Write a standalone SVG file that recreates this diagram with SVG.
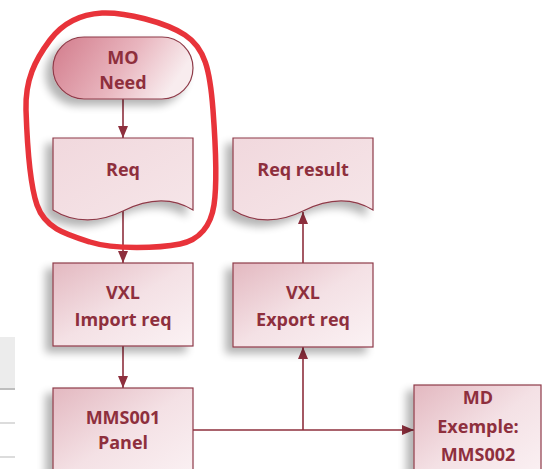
<svg xmlns="http://www.w3.org/2000/svg" width="542" height="469" viewBox="0 0 542 469">
  <defs>
    <linearGradient id="gTerm" x1="0" y1="0" x2="1" y2="0.3">
      <stop offset="0" stop-color="#d27b8b"/>
      <stop offset="0.6" stop-color="#e9b6bf"/>
      <stop offset="1" stop-color="#f8ecee"/>
    </linearGradient>
    <linearGradient id="gBox" x1="0" y1="0" x2="1" y2="1">
      <stop offset="0" stop-color="#e3b8c0"/>
      <stop offset="0.5" stop-color="#f4e1e5"/>
      <stop offset="1" stop-color="#fbf2f4"/>
    </linearGradient>
    <linearGradient id="gDoc" x1="0" y1="0" x2="1" y2="1">
      <stop offset="0" stop-color="#f1d8dd"/>
      <stop offset="1" stop-color="#f6e6e9"/>
    </linearGradient>
    <filter id="sh" x="-20%" y="-20%" width="140%" height="150%">
      <feGaussianBlur in="SourceAlpha" stdDeviation="4"/>
      <feOffset dx="-7" dy="6" result="b"/>
      <feComponentTransfer><feFuncA type="linear" slope="0.3"/></feComponentTransfer>
      <feMerge><feMergeNode/><feMergeNode in="SourceGraphic"/></feMerge>
    </filter>
    <marker id="arr" viewBox="0 0 12 10" refX="12" refY="5" markerWidth="12" markerHeight="10" markerUnits="userSpaceOnUse" orient="auto">
      <path d="M0,0 L12,5 L0,10 Z" fill="#8e2f3d"/>
    </marker>
  </defs>
  <style>
    .node { stroke: #8e3a48; stroke-width: 1.2; }
    .term { fill: url(#gTerm); }
    .box { fill: url(#gBox); }
    .doc { fill: url(#gDoc); }
    .lbl { font-family: "Open Sans", "Liberation Sans", sans-serif; font-weight: bold; font-size: 18px; fill: #8e2f3d; text-anchor: middle; }
    .conn { stroke: #8e2f3d; stroke-width: 1.6; fill: none; }
  </style>

  <g id="table-fragment">
    <rect x="0" y="337" width="15" height="51" fill="#ececec"/>
    <line x1="0" y1="389" x2="15" y2="389" stroke="#a8a8a8" stroke-width="1.5"/>
    <line x1="0" y1="423" x2="15" y2="423" stroke="#dcdcdc" stroke-width="2"/>
    <line x1="0" y1="457" x2="15" y2="457" stroke="#dcdcdc" stroke-width="2"/>
  </g>

  <g id="connectors">
    <line class="conn" x1="123" y1="99" x2="123" y2="138" marker-end="url(#arr)"/>
    <line class="conn" x1="123" y1="211" x2="123" y2="263" marker-end="url(#arr)"/>
    <line class="conn" x1="123" y1="346" x2="123" y2="388" marker-end="url(#arr)"/>
    <line class="conn" x1="193" y1="430" x2="414" y2="430" marker-end="url(#arr)"/>
    <line class="conn" x1="303" y1="430" x2="303" y2="347" marker-end="url(#arr)"/>
    <line class="conn" x1="303" y1="263" x2="303" y2="212" marker-end="url(#arr)"/>
  </g>

  <g id="mo-need">
    <rect class="node term" x="53" y="37" width="140" height="62" rx="31" ry="31" filter="url(#sh)"/>
    <text class="lbl" x="123" y="64">MO</text>
    <text class="lbl" x="123" y="89">Need</text>
  </g>

  <g id="req">
    <path class="node doc" filter="url(#sh)" d="M53,138 H193 V210 C170,196 145,200 123,211 C101,222 75,224 53,210 Z"/>
    <text class="lbl" x="123" y="176">Req</text>
  </g>

  <g id="req-result">
    <path class="node doc" filter="url(#sh)" d="M233,138 H373 V210 C350,196 325,200 303,211 C281,222 255,224 233,210 Z"/>
    <text class="lbl" x="303" y="176">Req result</text>
  </g>

  <g id="vxl-import">
    <rect class="node box" x="53" y="263" width="140" height="83" filter="url(#sh)"/>
    <text class="lbl" x="123" y="299">VXL</text>
    <text class="lbl" x="123" y="326">Import req</text>
  </g>

  <g id="vxl-export">
    <rect class="node box" x="233" y="263" width="140" height="84" filter="url(#sh)"/>
    <text class="lbl" x="303" y="299">VXL</text>
    <text class="lbl" x="303" y="326">Export req</text>
  </g>

  <g id="mms001">
    <rect class="node box" x="53" y="388" width="140" height="95" filter="url(#sh)"/>
    <text class="lbl" x="123" y="424">MMS001</text>
    <text class="lbl" x="123" y="449">Panel</text>
  </g>

  <g id="md-exemple">
    <rect class="node box" x="414" y="385" width="127" height="98" filter="url(#sh)"/>
    <text class="lbl" x="478" y="404">MD</text>
    <text class="lbl" x="478" y="433">Exemple:</text>
    <text class="lbl" x="478" y="461">MMS002</text>
  </g>

  <g id="highlight">
    <path d="M102,13 C125,12 165,22 185,35 S210,70 213,110 S217,185 214,205 S200,240 180,244 S115,250 90,242 S45,228 37,205 S27,140 26,110 S35,60 50,40 S85,14 102,13 Z" fill="none" stroke="#e8333a" stroke-width="5.5" stroke-linejoin="round"/>
  </g>
</svg>
